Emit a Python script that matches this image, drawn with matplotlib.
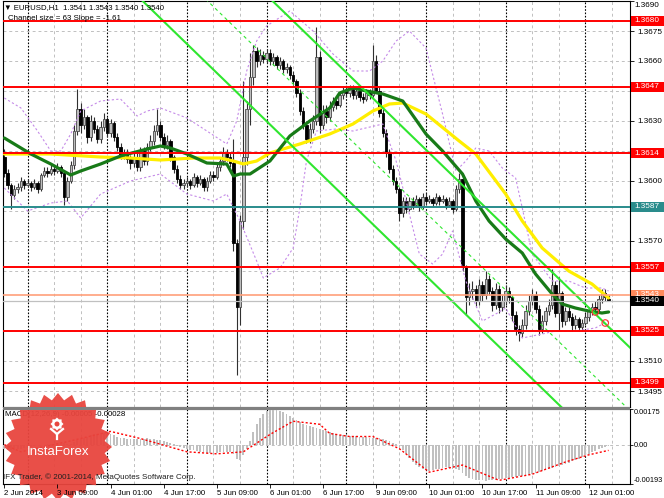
import numpy as np
import matplotlib.pyplot as plt
from matplotlib.patches import Rectangle, Polygon, Ellipse

plt.rcParams['font.family'] = ['Liberation Sans', 'DejaVu Sans']

W, H = 664, 498
BASE = 1.35  # candle / MA / band values below are pips above 1.3500

# =========================
# EURUSD H1 candles (2 Jun 17:00 .. 12 Jun 06:00)
# =========================
open_pips = [
    112, 104, 98, 93, 96, 97, 100, 98, 99, 97,
    99, 96, 103, 105, 104, 106, 105, 107, 104, 92,
    100, 108, 125, 136, 128, 132, 122, 130, 126, 121,
    127, 131, 124, 129, 122, 117, 113, 114, 111, 109,
    112, 107, 115, 110, 117, 120, 125, 128, 122, 118,
    120, 112, 106, 101, 98, 99, 100, 98, 102, 99,
    101, 97, 100, 103, 102, 107, 110, 114, 112, 109,
    69, 37, 80, 112, 136, 152, 165, 160, 163, 161,
    164, 160, 162, 158, 160, 156, 157, 153, 150, 144,
    135, 128, 121, 126, 130, 162, 128, 135, 132, 137,
    140, 138, 143, 145, 144, 146, 143, 145, 142, 141,
    144, 143, 160, 145, 134, 124, 114, 106, 100, 96,
    84, 90, 86, 90, 88, 91, 87, 92, 90, 91,
    89, 92, 90, 91, 88, 90, 86, 96, 101, 57,
    42, 45, 46, 40, 48, 43, 51, 45, 38, 46,
    37, 40, 45, 42, 33, 26, 24, 28, 35, 40,
    43, 36, 26, 30, 35, 38, 48, 34, 44, 30,
    35, 32, 28, 31, 27, 29, 32, 35, 37, 36,
    41, 44, 41]
high_pips = [
    116, 106, 99, 98, 99, 102, 101, 101, 100, 101,
    100, 104, 107, 107, 108, 108, 109, 108, 105, 102,
    110, 128, 146, 139, 136, 133, 133, 132, 128, 130,
    134, 132, 131, 130, 124, 119, 116, 116, 113, 114,
    114, 117, 117, 119, 123, 128, 136, 130, 124, 123,
    121, 113, 108, 103, 101, 102, 101, 104, 103, 103,
    102, 102, 105, 105, 109, 112, 117, 116, 114, 121,
    71, 83, 150, 140, 164, 168, 167, 166, 165, 166,
    166, 164, 163, 162, 161, 159, 158, 155, 151, 146,
    137, 130, 129, 133, 177, 165, 138, 138, 140, 142,
    142, 145, 147, 147, 148, 148, 147, 146, 144, 146,
    146, 168, 163, 147, 136, 126, 116, 108, 102, 97,
    92, 92, 92, 92, 93, 92, 94, 94, 93, 92,
    94, 93, 93, 92, 92, 91, 98, 104, 103, 58,
    49, 50, 48, 51, 50, 55, 53, 47, 49, 48,
    43, 48, 47, 43, 35, 28, 31, 38, 43, 46,
    45, 38, 33, 37, 41, 56, 50, 52, 45, 37,
    37, 34, 33, 32, 31, 34, 37, 39, 40, 43,
    46, 46, 43]
low_pips = [
    102, 96, 86, 91, 94, 95, 96, 97, 95, 96,
    94, 95, 102, 102, 103, 103, 104, 102, 88, 90,
    99, 106, 123, 124, 126, 119, 120, 124, 119, 119,
    125, 122, 122, 120, 115, 111, 111, 109, 106, 107,
    105, 105, 108, 108, 115, 118, 123, 120, 116, 116,
    110, 104, 99, 96, 96, 97, 96, 97, 97, 98,
    95, 95, 99, 100, 101, 105, 108, 110, 107, 65,
    3, 28, 76, 108, 128, 148, 157, 158, 159, 159,
    158, 158, 156, 156, 154, 154, 151, 148, 142, 133,
    126, 119, 119, 124, 128, 124, 126, 129, 130, 135,
    136, 137, 141, 142, 142, 141, 141, 140, 139, 140,
    141, 142, 144, 132, 122, 112, 104, 98, 94, 80,
    82, 84, 85, 86, 87, 85, 86, 88, 89, 87,
    88, 88, 89, 86, 87, 84, 85, 94, 55, 33,
    38, 41, 37, 38, 40, 41, 43, 35, 36, 34,
    35, 38, 39, 30, 23, 20, 22, 26, 33, 38,
    34, 23, 24, 28, 33, 36, 32, 25, 27, 28,
    30, 25, 26, 25, 25, 28, 30, 33, 34, 35,
    39, 40, 40]
close_pips = [
    104, 98, 93, 96, 97, 100, 98, 99, 97, 99,
    96, 103, 105, 104, 106, 105, 107, 104, 92, 100,
    108, 125, 136, 128, 132, 122, 130, 126, 121, 127,
    131, 124, 129, 122, 117, 113, 114, 111, 109, 112,
    107, 115, 110, 117, 120, 125, 128, 122, 118, 120,
    112, 106, 101, 98, 99, 100, 98, 102, 99, 101,
    97, 100, 103, 102, 107, 110, 114, 112, 109, 69,
    37, 80, 112, 136, 152, 165, 160, 163, 161, 164,
    160, 162, 158, 160, 156, 157, 153, 150, 144, 135,
    128, 121, 126, 130, 162, 128, 135, 132, 137, 140,
    138, 143, 145, 144, 146, 143, 145, 142, 141, 144,
    143, 160, 145, 134, 124, 114, 106, 100, 96, 84,
    90, 86, 90, 88, 91, 87, 92, 90, 91, 89,
    92, 90, 91, 88, 90, 86, 96, 101, 57, 42,
    45, 46, 40, 48, 43, 51, 45, 38, 46, 37,
    40, 45, 42, 33, 26, 24, 28, 35, 40, 43,
    36, 26, 30, 35, 38, 48, 34, 44, 30, 35,
    32, 28, 31, 27, 29, 32, 35, 37, 36, 41,
    44, 42, 40]

# moving averages / bollinger bands (bar index, pips)
ma_fast_idx = [0, 5, 8, 14, 20, 23, 29, 35, 43, 47, 50, 55, 61, 67, 69, 71, 74, 80, 86, 92,
               98, 101, 105, 109, 114, 120, 127, 132, 138, 142, 146, 151, 156, 160, 165, 168, 172, 176, 180, 182]
ma_fast_pips = [121.5, 116.5, 113.5, 108.5, 103, 105, 108.5, 112.5, 116, 117.5,
                116.5, 113.5, 109, 108.5, 102.5, 103.5, 103.5, 110, 122.5, 130,
                136.5, 144, 146.5, 145, 143.5, 140, 123.5, 115, 103.5, 90,
                80, 71, 64, 53.5, 43.5, 38.5, 36.5, 35, 34, 34.5]
ma_slow_idx = [0, 14, 29, 38, 47, 57, 65, 69, 72, 76, 80, 89, 98, 105, 111, 116, 120, 127, 137, 142,
               151, 156, 162, 170, 177, 182]
ma_slow_pips = [113.5, 113.5, 112, 111.5, 110.5, 111.5, 111.5, 110, 108.5, 110,
                114, 118.5, 123.5, 128.5, 135, 138.5, 139, 133.5, 120, 113.5,
                93.5, 80, 66.5, 55, 48.5, 41.5]
bb_up_idx = [0, 5, 10, 14, 17, 20, 23, 29, 35, 40, 43, 47, 55, 61, 67, 70, 73, 76, 79, 86,
             93, 99, 105, 110, 114, 118, 122, 127, 132, 136, 139, 142, 146, 150, 154, 156, 159, 165,
             170, 175, 180, 182]
bb_up_pips = [141.5, 136.5, 125, 115, 115, 123.5, 135, 140, 141, 132.5,
              135, 136.5, 131.5, 125, 118.5, 130, 155, 170, 177.5, 185,
              175, 163.5, 155, 155, 160, 170, 175, 166.5, 133.5, 105,
              110, 116.5, 115, 106.5, 101.5, 86.5, 63.5, 50, 50, 46.5,
              46.5, 45]
bb_lo_idx = [0, 7, 14, 19, 23, 29, 38, 47, 55, 63, 67, 71, 76, 78, 83, 87, 89, 91, 94, 100,
             105, 114, 118, 122, 125, 129, 132, 135, 139, 144, 148, 151, 156, 162, 166, 172, 178, 182]
bb_lo_pips = [96.5, 85, 89, 90, 81.5, 93.5, 100, 103.5, 93.5, 90,
              93.5, 80, 60, 51.5, 56.5, 66.5, 86.5, 110, 125, 126,
              125, 128.5, 110, 83.5, 63.5, 58.5, 63.5, 75, 50, 30,
              33.5, 36.5, 21.5, 23.5, 25, 25, 26.5, 30]

# MACD(12,26,9), units of 1e-5
macd_vals = [
    -22, -24, -25, -24, -22, -20, -17, -14,
    -10, -7, -4, -2, 0, 2, 3, 4, 5, 5, 6, 4, 3,
    12, 22, 30, 35, 40, 45, 50, 52, 55, 55, 54,
    50, 45, 40, 35, 32, 30, 30, 28, 27, 28, 30, 32, 30,
    28, 25, 22, 18, 14, 8, 2, -5, -12, -18, -22,
    -25, -28, -32, -35, -38, -40, -40, -42, -40, -38, -36, -34, -35, -45,
    -70, -75, -50,
    -20, 20, 60, 100,
    130, 150, 165, 170, 172, 170, 165, 160, 150, 140, 130,
    120, 110, 100, 95, 90, 85, 80, 75, 70, 65, 60, 55,
    50, 48, 46, 45, 44, 42, 42, 40, 38, 36, 35, 34, 35, 33, 30, 25, 18,
    10, 2, -10, -25,
    -45, -65, -85, -100, -110, -120, -125,
    -128, -125, -120, -118, -115, -112, -115, -118, -120, -122,
    -140, -155, -165, -170, -172, -175, -175, -176, -175, -174, -172, -170, -168, -165,
    -162, -160, -158, -155, -152, -150, -148, -145, -140, -135, -130, -125, -120,
    -115, -110, -105, -100, -95, -90, -82, -75, -68, -60, -52,
    -45, -38, -30, -22, -15, -10, -5]
signal_idx = [0, 5, 19, 32, 41, 55, 64, 72, 80, 87, 95, 98, 104, 111, 119, 128, 138, 149, 159, 169, 176, 182]
signal_vals = [0, -35, 15, 65, 30, -35, -45, -35, 50, 115, 100, 55, 40, 40, -20, -135, -100, -175, -145, -85, -50, -28]

# horizontal levels
red_levels = [1.3680, 1.3647, 1.3614, 1.3557, 1.3525, 1.3499]
teal_level = 1.3587
ask_price = 1.3543
bid_price = 1.3540

# regression channel
chan_bar = 128
chan_price = 1.3614
chan_slope_pips = -1.61
chan_size_pips = 63

order_bars = [178, 181]
order_prices = [1.35345, 1.3529]

price_ticks = [1.3690, 1.3675, 1.3660, 1.3645, 1.3630, 1.3615, 1.3600,
               1.3585, 1.3570, 1.3555, 1.3540, 1.3525, 1.3510, 1.3495]
hidden_ticks = [1.3690, 1.3645, 1.3615, 1.3585, 1.3555, 1.3540, 1.3525]
x_label_bars = [0, 16, 32, 48, 64, 80, 96, 112, 128, 144, 160, 176]
x_labels = ["2 Jun 2014", "3 Jun 09:00", "4 Jun 01:00", "4 Jun 17:00", "5 Jun 09:00",
            "6 Jun 01:00", "6 Jun 17:00", "9 Jun 09:00", "10 Jun 01:00", "10 Jun 17:00",
            "11 Jun 09:00", "12 Jun 01:00"]
day_start_bars = [7, 31, 55, 79, 103, 127, 151, 175]

FS = 5.9


def px_box(x0, y0, x1, y1):
    return [x0 / W, 1 - y1 / H, (x1 - x0) / W, (y1 - y0) / H]


def to_price(p):
    return BASE + np.array(p, dtype=float) / 10000


fig = plt.figure(figsize=(W / 100, H / 100), dpi=100)
ax = fig.add_axes(px_box(3, 1, 630, 407))
am = fig.add_axes(px_box(3, 409, 630, 484))

XMIN, XMAX = -0.4, 188.45
GRID = '#c0c0c0'

# =========================
# main panel
# =========================
ax.set_xlim(XMIN, XMAX)
ax.set_ylim(1.3487, 1.3690)

for p in price_ticks:
    ax.axhline(p, color=GRID, lw=0.7, ls=(0, (3, 3)), zorder=1)
for b in range(7, 189, 8):
    if b in day_start_bars:
        for a in (ax, am):
            a.axvline(b, color='black', lw=0.8, ls=(0, (1.5, 1.5)), zorder=1)
    else:
        for a in (ax, am):
            a.axvline(b, color=GRID, lw=0.7, ls=(0, (3, 3)), zorder=1)

idx = np.arange(len(close_pips))
o, h, l, c = (to_price(v) for v in (open_pips, high_pips, low_pips, close_pips))
up = c >= o
ax.vlines(idx, l, h, color='#303030', lw=0.8, zorder=3)
ax.bar(idx[up], (c - o)[up], bottom=o[up], width=0.72, color='#bdbdbd',
       edgecolor='#4a4a4a', lw=0.6, zorder=3.5)
ax.bar(idx[~up], (c - o)[~up], bottom=o[~up], width=0.72, color='black',
       edgecolor='black', lw=0.6, zorder=3.5)

# bands and averages
bb_col = '#c58be8'
ax.plot(bb_up_idx, to_price(bb_up_pips), color=bb_col, lw=0.8, ls=(0, (2, 2)), zorder=4)
ax.plot(bb_lo_idx, to_price(bb_lo_pips), color=bb_col, lw=0.8, ls=(0, (2, 2)), zorder=4)
ax.plot(ma_slow_idx, to_price(ma_slow_pips), color='#ffee00', lw=2.3, zorder=5,
        solid_capstyle='round')
ax.plot(ma_fast_idx, to_price(ma_fast_pips), color='#187a18', lw=2.3, zorder=5.2,
        solid_capstyle='round')

# regression channel
cx = np.array([XMIN - 5, XMAX + 5])
upper = chan_price + chan_slope_pips * (cx - chan_bar) / 10000
ax.plot(cx, upper, color='#2fe62f', lw=1.5, zorder=5.5)
ax.plot(cx, upper - chan_size_pips / 10000, color='#2fe62f', lw=1.5, zorder=5.5)
ax.plot(cx, upper - chan_size_pips / 20000, color='#2fe62f', lw=0.8,
        ls=(0, (3, 3)), zorder=5.5)

# levels
for p in red_levels:
    ax.axhline(p, color='#ff0000', lw=1.4, zorder=6)
ax.axhline(teal_level, color='#2a8c8c', lw=1.4, zorder=6)
ax.axhline(ask_price, color='#ffa07a', lw=1.2, zorder=6)
ax.axhline(bid_price, color='#c0c0c0', lw=0.9, zorder=6)

ax.scatter(order_bars, order_prices, s=22, facecolors='none', edgecolors='#ff3030',
           linewidths=0.8, zorder=7)

ax.yaxis.tick_right()
ax.set_yticks(price_ticks)
ax.set_yticklabels(["" if p in hidden_ticks else f"{p:.4f}" for p in price_ticks])
ax.tick_params(axis='y', length=3, width=0.6, pad=2, labelsize=FS, color='black')
ax.set_xticks([])
for s in ax.spines.values():
    s.set_color('black')
    s.set_linewidth(0.8)
# top price label sits just under the panel edge
fig.text(634 / W, 1 - 2 / H, "1.3690", fontsize=FS, va='top', ha='left')

trans = ax.get_yaxis_transform()
tags = [(p, '#ff0000', 'white') for p in red_levels]
tags += [(teal_level, '#2a8c8c', 'white'), (ask_price, '#ff8a5c', 'white'),
         (bid_price, 'black', 'white')]
for p, fc, tc in tags:
    ax.add_patch(Rectangle((1.0015, p - 0.00027), 0.06, 0.00054, transform=trans,
                           facecolor=fc, edgecolor='none', clip_on=False, zorder=8))
    ax.text(1.0065, p, f"{p:.4f}", transform=trans, color=tc, fontsize=FS,
            va='center', ha='left', zorder=9, clip_on=False)

fig.text(4 / W, 1 - 8 / H, "\u25bc EURUSD,H1  1.3541 1.3543 1.3540 1.3540",
         fontsize=5.6, va='center', ha='left', color='black')
fig.text(8 / W, 1 - 19 / H, "Channel size = 63 Slope = -1.61",
         fontsize=5.7, va='center', ha='left', color='black')

# =========================
# MACD panel
# =========================
am.set_xlim(XMIN, XMAX)
am.set_ylim(-0.00193, 0.00175)
am.axhline(0, color=GRID, lw=0.7, ls=(0, (3, 3)), zorder=1)
am.bar(idx, np.array(macd_vals) * 1e-5, width=0.55, color='#c0c0c0', zorder=3)
am.plot(signal_idx, np.array(signal_vals) * 1e-5, color='#ff0000', lw=1.0,
        ls=(0, (1.5, 1.5)), zorder=4)

am.yaxis.tick_right()
am.set_yticks([0.00175, 0.0, -0.00193])
am.set_yticklabels(["0.00175", "0.00", "-0.00193"])
am.tick_params(axis='y', length=2, width=0.6, pad=1, labelsize=5.3)
ylabs = am.get_yticklabels()
ylabs[0].set_verticalalignment('top')
ylabs[2].set_verticalalignment('bottom')
am.set_xticks(x_label_bars)
am.set_xticklabels(x_labels)
for lab in am.get_xticklabels():
    lab.set_horizontalalignment('left')
am.tick_params(axis='x', length=3, width=0.6, pad=1.5, labelsize=5.7)
am.xaxis.set_zorder(12)
for s in am.spines.values():
    s.set_color('black')
    s.set_linewidth(0.8)

am.text(5 / W, 1 - 414 / H, "MACD(12,26,9) -0.00005 -0.00028", transform=fig.transFigure,
        fontsize=5.7, va='center', ha='left', zorder=9)

# panel separator
fig.add_artist(Rectangle((3 / W, 1 - 409.5 / H), 627 / W, 2.5 / H, transform=fig.transFigure,
                         facecolor='#808080', edgecolor='none'))

# InstaForex badge
scx, scy = 58, 447
ang = np.linspace(0, 2 * np.pi, 48, endpoint=False)
rad = np.where(np.arange(48) % 2 == 0, 54, 47)
sx = scx + rad * np.sin(ang)
sy = scy - rad * np.cos(ang)
am.add_patch(Polygon(np.column_stack([sx / W, 1 - sy / H]), closed=True,
                     transform=fig.transFigure, facecolor='#e8453e', edgecolor='none',
                     alpha=0.95, clip_on=False, zorder=10))
gang = np.linspace(0, 2 * np.pi, 16, endpoint=False)
grad = np.where(np.arange(16) % 2 == 0, 6.5, 5.0)
am.add_patch(Polygon(np.column_stack([(57 + grad * np.sin(gang)) / W,
                                      1 - (424 - grad * np.cos(gang)) / H]),
                     closed=True, transform=fig.transFigure, facecolor='white',
                     edgecolor='none', clip_on=False, zorder=10.5))
am.add_patch(Ellipse((57 / W, 1 - 424 / H), 5 / W, 5 / H, transform=fig.transFigure,
                     facecolor='#e8453e', edgecolor='none', clip_on=False, zorder=10.6))
for (x0, y0, x1, y1) in [(51, 429, 57, 434), (63, 429, 57, 434), (57, 434, 57, 439)]:
    am.plot([x0 / W, x1 / W], [1 - y0 / H, 1 - y1 / H], transform=fig.transFigure,
            color='white', lw=1.6, clip_on=False, zorder=10.7)
am.text(58 / W, 1 - 452 / H, "InstaForex", transform=fig.transFigure, color='white',
        fontsize=9.5, ha='center', va='center', zorder=11)

fig.text(3 / W, 1 - 477 / H, "IFX Trader, \u00a9 2001-2014, MetaQuotes Software Corp.",
         fontsize=5.8, va='center', ha='left', color='#202020')

fig.savefig("out.png", dpi=100)
